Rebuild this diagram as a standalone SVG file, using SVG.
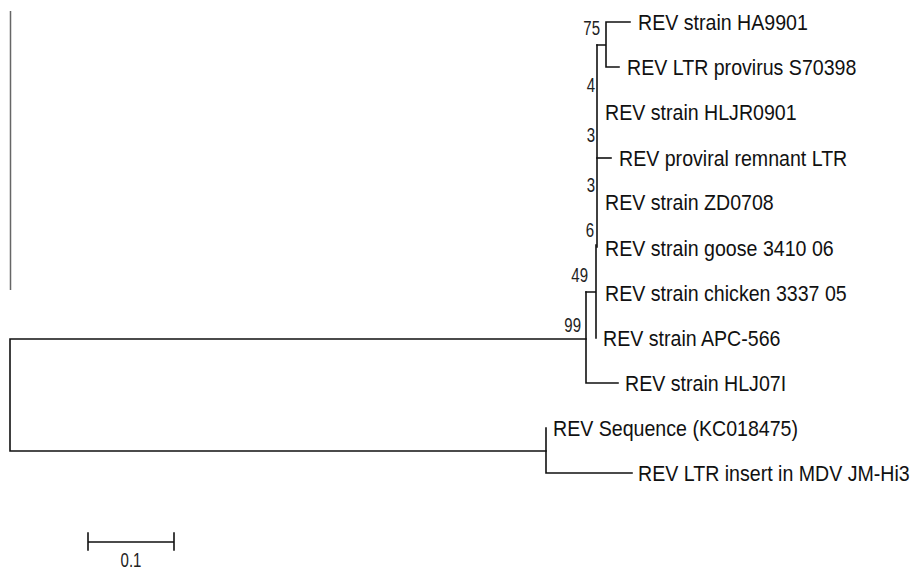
<svg xmlns="http://www.w3.org/2000/svg" width="919" height="570" viewBox="0 0 919 570">
<style>
.br{stroke:#111;stroke-width:1.6;fill:none;stroke-linecap:square}
.lb{font-family:"Liberation Sans",Arial,sans-serif;font-size:19.6px;fill:#111}
.bs{font-family:"Liberation Sans",Arial,sans-serif;font-size:15px;fill:#222;text-anchor:end}
</style>
<rect width="919" height="570" fill="#fff"/>
<line x1="10.5" y1="11" x2="10.5" y2="290" stroke="#666" stroke-width="1.5"/>
<g id="connectors" class="br">
<path d="M10,339 H586 M10,339 V451 H546"/>
<path d="M586,292 V383 H618"/>
<path d="M586,292 H596 M596,245 V338"/>
<path d="M597,45 V247"/>
<path d="M597,45 H606 M606,22 V67 M606,22 H630 M606,67 H619"/>
<path d="M597,158 H611"/>
<path d="M546,428 V473 H632"/>
</g>
<g id="leaf-HA9901"><text class="lb" transform="translate(638,30) scale(1,1.15)">REV strain HA9901</text></g>
<g id="leaf-S70398"><text class="lb" transform="translate(627,75) scale(1,1.15)">REV LTR provirus S70398</text></g>
<g id="leaf-HLJR0901"><text class="lb" transform="translate(605,120) scale(1,1.15)">REV strain HLJR0901</text></g>
<g id="leaf-remnant"><text class="lb" transform="translate(619,166) scale(1,1.15)">REV proviral remnant LTR</text></g>
<g id="leaf-ZD0708"><text class="lb" transform="translate(605,210) scale(1,1.15)">REV strain ZD0708</text></g>
<g id="leaf-goose"><text class="lb" transform="translate(605,256) scale(1,1.15)">REV strain goose 3410 06</text></g>
<g id="leaf-chicken"><text class="lb" transform="translate(605,301) scale(1,1.15)">REV strain chicken 3337 05</text></g>
<g id="leaf-APC566"><text class="lb" transform="translate(603,346) scale(1,1.15)">REV strain APC-566</text></g>
<g id="leaf-HLJ07I"><text class="lb" transform="translate(625,391) scale(1,1.15)">REV strain HLJ07I</text></g>
<g id="leaf-KC018475"><text class="lb" transform="translate(553,436) scale(1,1.15)">REV Sequence (KC018475)</text></g>
<g id="leaf-MDV"><text class="lb" transform="translate(638,481) scale(1,1.15)">REV LTR insert in MDV JM-Hi3</text></g>
<g id="node-75"><text class="bs" transform="translate(600,35) scale(1,1.37)">75</text></g>
<g id="node-4"><text class="bs" transform="translate(595,92) scale(1,1.37)">4</text></g>
<g id="node-3a"><text class="bs" transform="translate(595,142) scale(1,1.37)">3</text></g>
<g id="node-3b"><text class="bs" transform="translate(595,192) scale(1,1.37)">3</text></g>
<g id="node-6"><text class="bs" transform="translate(594,237) scale(1,1.37)">6</text></g>
<g id="node-49"><text class="bs" transform="translate(588,282) scale(1,1.37)">49</text></g>
<g id="node-99"><text class="bs" transform="translate(581,332) scale(1,1.37)">99</text></g>
<g id="scale-bar">
<path class="br" d="M88,542 H174 M88,533 V550 M174,533 V550"/>
<text class="bs" style="text-anchor:middle" transform="translate(131,567) scale(1,1.35)">0.1</text>
</g>
</svg>
